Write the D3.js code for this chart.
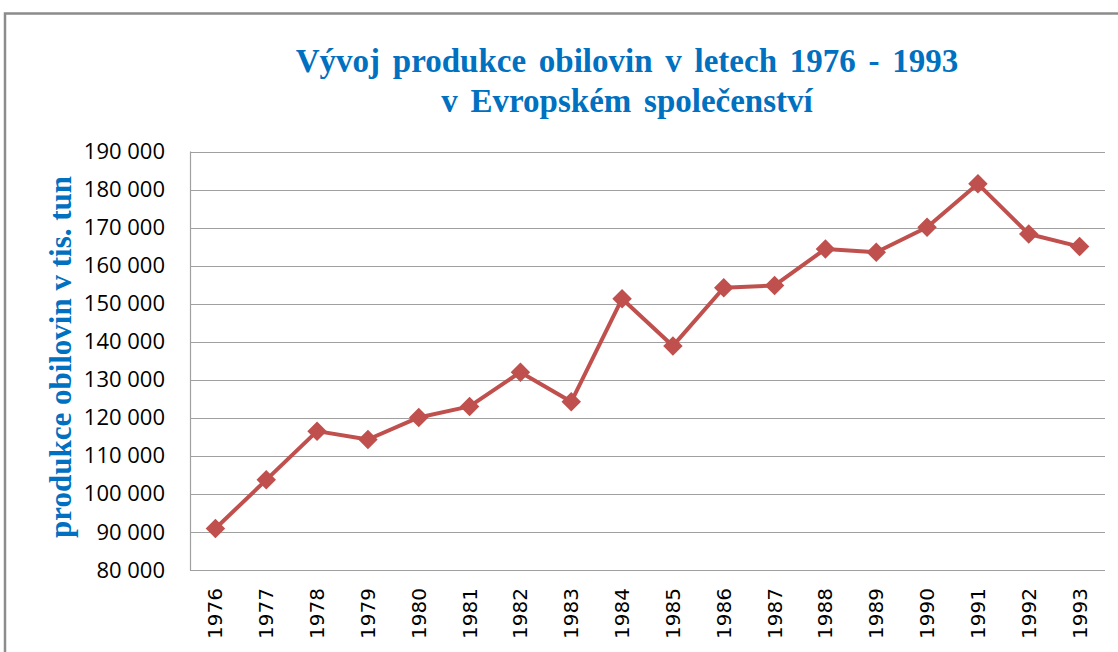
<!DOCTYPE html>
<html><head><meta charset="utf-8">
<script src="https://cdn.jsdelivr.net/npm/d3@7"></script>
<style>body{margin:0;background:#fff}svg{display:block}</style>
</head><body>
<script>
const years = ["1976","1977","1978","1979","1980","1981","1982","1983","1984","1985","1986","1987","1988","1989","1990","1991","1992","1993"];
const production = [90900,103700,116500,114300,120100,123000,132000,124200,151300,138900,154200,154800,164400,163500,170100,181500,168300,165000];
const yTicks = [80000,90000,100000,110000,120000,130000,140000,150000,160000,170000,180000,190000];
const titleLines = ["Vývoj produkce obilovin v letech 1976 - 1993","v Evropském společenství"];
const yTitle = "produkce obilovin v tis. tun";

const W = 1118, H = 652;
const m = {left:190, right:1105, top:151.5, bottom:570};
const svg = d3.select("body").append("svg").attr("width",W).attr("height",H);

// frame
svg.append("path").attr("d",`M5,${H} V13.5 H${W}`).attr("fill","none").attr("stroke","#8c8c8c").attr("stroke-width",2.5);

const x = d3.scaleBand().domain(years).range([m.left,m.right]);
const y = d3.scaleLinear().domain([80000,190000]).range([m.bottom,m.top]);

// grid
svg.append("g").selectAll("line").data(yTicks).join("line")
  .attr("x1",m.left).attr("x2",m.right)
  .attr("y1",d=>Math.round(y(d))+0.5).attr("y2",d=>Math.round(y(d))+0.5)
  .attr("stroke","#a0a0a0").attr("stroke-width",1.2);
svg.append("line").attr("x1",m.left+0.5).attr("x2",m.left+0.5).attr("y1",y(190000)).attr("y2",m.bottom+0.5)
  .attr("stroke","#a0a0a0").attr("stroke-width",1.2);

const fmt = d => d3.format(",")(d).replace(/,/g," ");
const yAxis = d3.axisLeft(y).tickValues(yTicks).tickFormat(fmt).tickSize(0).tickPadding(25);
const gy = svg.append("g").attr("transform",`translate(${m.left},0)`).call(yAxis);
gy.select(".domain").remove();
gy.selectAll("text").attr("font-family","'Open Sans'").attr("font-size",22).attr("fill","#000");

const xAxis = d3.axisBottom(x).tickSize(0).tickPadding(0);
const gx = svg.append("g").attr("transform",`translate(0,${m.bottom})`).call(xAxis);
gx.select(".domain").remove();
gx.selectAll("text").attr("font-family","'DejaVu Sans'").attr("font-size",20).attr("fill","#000")
  .attr("text-anchor","end").attr("dy","0.35em")
  .attr("transform","translate(0,18) rotate(-90)").attr("x",0).attr("y",0);

// line
const cx = d => x(d) + x.bandwidth()/2;
svg.append("path").datum(production.map((v,i)=>[years[i],v]))
  .attr("fill","none").attr("stroke","#c0504d").attr("stroke-width",4).attr("stroke-linejoin","round")
  .attr("d",d3.line().x(d=>cx(d[0])).y(d=>y(d[1])));
svg.append("g").selectAll("path").data(production).join("path")
  .attr("d",d3.symbol(d3.symbolSquare,190))
  .attr("transform",(d,i)=>`translate(${cx(years[i])},${y(d)}) rotate(45)`)
  .attr("fill","#c0504d");

// titles
const t = svg.append("text").attr("text-anchor","middle").attr("font-family","'Liberation Serif'")
  .attr("font-weight","bold").attr("font-size",33).attr("fill","#0070c0").attr("word-spacing",4.5);
titleLines.forEach((s,i)=>t.append("tspan").attr("x",627).attr("y",72+i*40).text(s));

svg.append("text").attr("transform","translate(71,357) rotate(-90)").attr("text-anchor","middle")
  .attr("font-family","'Liberation Serif'").attr("font-weight","bold").attr("font-size",31)
  .attr("fill","#0070c0").text(yTitle);
</script>
</body></html>
